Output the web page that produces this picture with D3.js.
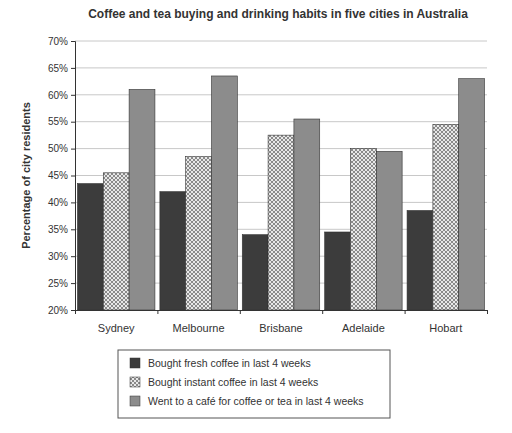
<!DOCTYPE html>
<html><head><meta charset="utf-8">
<script src="https://cdn.jsdelivr.net/npm/d3@7"></script>
<style>body{margin:0;background:#fff;font-family:"Liberation Sans",Arial,sans-serif}</style>
</head><body>
<svg id="chart" width="512" height="433"></svg>
<script>
var cities = ["Sydney", "Melbourne", "Brisbane", "Adelaide", "Hobart"];
var series = ["Bought fresh coffee in last 4 weeks", "Bought instant coffee in last 4 weeks", "Went to a café for coffee or tea in last 4 weeks"];
var fresh = [43.5, 42, 34, 34.5, 38.5];
var instant = [45.5, 48.5, 52.5, 50, 54.5];
var cafe = [61, 63.5, 55.5, 49.5, 63];
var yTicks = [20, 25, 30, 35, 40, 45, 50, 55, 60, 65, 70];

var svg = d3.select("#chart"),
    margin = {top: 41, right: 25, bottom: 123, left: 75},
    width = 512 - margin.left - margin.right,
    height = 433 - margin.top - margin.bottom;

var defs = svg.append("defs");
var pat = defs.append("pattern").attr("id", "check").attr("width", 4).attr("height", 4)
    .attr("patternUnits", "userSpaceOnUse");
pat.append("rect").attr("width", 4).attr("height", 4).attr("fill", "#e8e8e8");
pat.append("rect").attr("width", 2).attr("height", 2).attr("fill", "#8a8a8a");
pat.append("rect").attr("x", 2).attr("y", 2).attr("width", 2).attr("height", 2).attr("fill", "#8a8a8a");
var fills = ["#3c3c3c", "url(#check)", "#8c8c8c"];
var data = [fresh, instant, cafe];

var x = d3.scaleBand().domain(cities).range([0, width]).paddingInner(0.06).paddingOuter(0.03);
var xs = d3.scaleBand().domain([0, 1, 2]).range([0, x.bandwidth()]).padding(0);
var y = d3.scaleLinear().domain([20, 70]).range([height, 0]);

svg.append("text").attr("x", 278).attr("y", 18).attr("text-anchor", "middle")
    .style("font-weight", "bold").style("font-size", "12px").style("fill", "#333")
    .text("Coffee and tea buying and drinking habits in five cities in Australia");

var g = svg.append("g").attr("transform", "translate(" + margin.left + "," + margin.top + ")");

g.append("g").selectAll("line").data(yTicks.slice(1)).enter().append("line")
    .attr("x1", 0).attr("x2", width).attr("y1", y).attr("y2", y)
    .attr("stroke", "#c8c8c8");

cities.forEach(function(c, i) {
  data.forEach(function(s, j) {
    g.append("rect")
      .attr("x", x(c) + xs(j)).attr("y", y(s[i]))
      .attr("width", xs.bandwidth()).attr("height", height - y(s[i]))
      .attr("fill", fills[j]).attr("stroke", "#333").attr("stroke-width", 0.6);
  });
});

g.append("g").call(d3.axisLeft(y).tickValues(yTicks).tickFormat(function(d) { return d + "%"; }).tickSize(4))
    .call(function(a) { a.selectAll("text").style("font-size", "10px").style("fill", "#333"); a.selectAll("path,line").attr("stroke", "#333"); });

var xa = d3.scaleLinear().domain([0, 5]).range([0, width]);
g.append("g").attr("transform", "translate(0," + height + ")")
    .call(d3.axisBottom(xa).ticks(5).tickFormat("").tickSize(4))
    .call(function(a) { a.selectAll("path,line").attr("stroke", "#333"); });
g.append("g").selectAll("text").data(cities).enter().append("text")
    .attr("x", function(d) { return x(d) + x.bandwidth() / 2; }).attr("y", height + 22)
    .attr("text-anchor", "middle").style("font-size", "11px").style("fill", "#333").text(function(d) { return d; });

svg.append("text").attr("transform", "rotate(-90)").attr("x", -(margin.top + height / 2)).attr("y", 30)
    .attr("text-anchor", "middle").style("font-weight", "bold").style("font-size", "11px").style("fill", "#333")
    .text("Percentage of city residents");

var lg = svg.append("g").attr("transform", "translate(118,350)");
lg.append("rect").attr("width", 272).attr("height", 68).attr("fill", "none").attr("stroke", "#555");
series.forEach(function(s, j) {
  lg.append("rect").attr("x", 12).attr("y", 8 + j * 19).attr("width", 10).attr("height", 10)
    .attr("fill", fills[j]).attr("stroke", "#333").attr("stroke-width", 0.5);
  lg.append("text").attr("x", 30).attr("y", 17 + j * 19).style("font-size", "10.5px").style("fill", "#333").text(s);
});
</script>
</body></html>
